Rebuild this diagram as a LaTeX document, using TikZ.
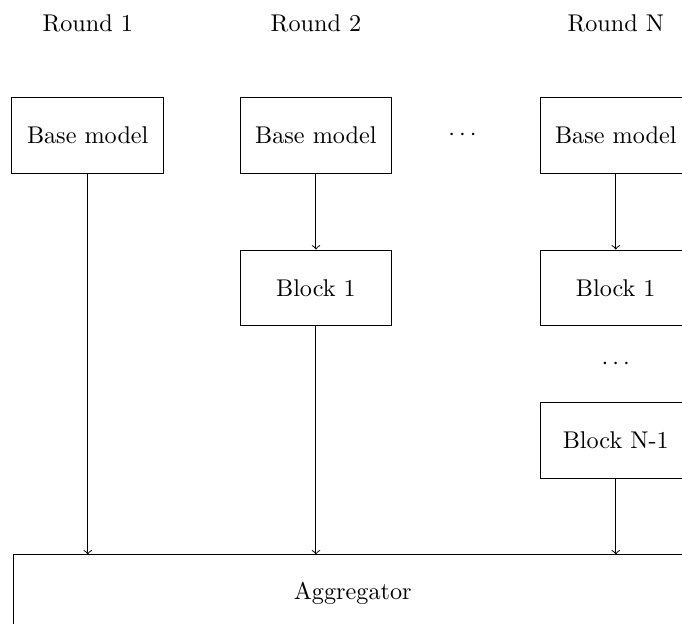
\documentclass[tikz,border=0pt]{standalone}
\usepackage{tikz}
\usetikzlibrary{positioning,calc}
\tikzset{
  stage/.style={draw, line width=0.4pt, minimum width=2.2cm, minimum height=1.1cm},
  flow/.style={->, line width=0.4pt},
  dots/.style={inner sep=1pt},
}
\begin{document}
\begin{tikzpicture}
  \clip (-1.274,1.967) rectangle (8.63,-7.09);
  \node[stage] (b1) at (0,0) {Base model};
  \node[stage, right=1.1cm of b1] (b2) {Base model};
  \node[stage, right=2.14cm of b2] (b3) {Base model};
  \node[above=0.82cm of b1] (r1) {Round 1};
  \node[above=0.82cm of b2] (r2) {Round 2};
  \node[above=0.82cm of b3] (r3) {Round N};
  \node[dots, xshift=-0.05cm] (d1) at ($(b2)!0.5!(b3)$) {$\cdots$};
  \node[stage, below=1.1cm of b2] (b21) {Block 1};
  \node[stage, below=1.1cm of b3] (b31) {Block 1};
  \node[stage, below=1.1cm of b31] (b3n) {Block N-1};
  \node[dots] (d2) at ($(b31)!0.5!(b3n)$) {$\cdots$};
  \node[stage, minimum width=9.84cm, below=1.1cm of b3n, xshift=-3.82cm] (agg) {Aggregator};
  \draw[flow] (b2) -- (b21);
  \draw[flow] (b3) -- (b31);
  \draw[flow] (b1) -- (b1 |- agg.north);
  \draw[flow] (b21) -- (b21 |- agg.north);
  \draw[flow] (b3n) -- (b3n |- agg.north);
\end{tikzpicture}
\end{document}
